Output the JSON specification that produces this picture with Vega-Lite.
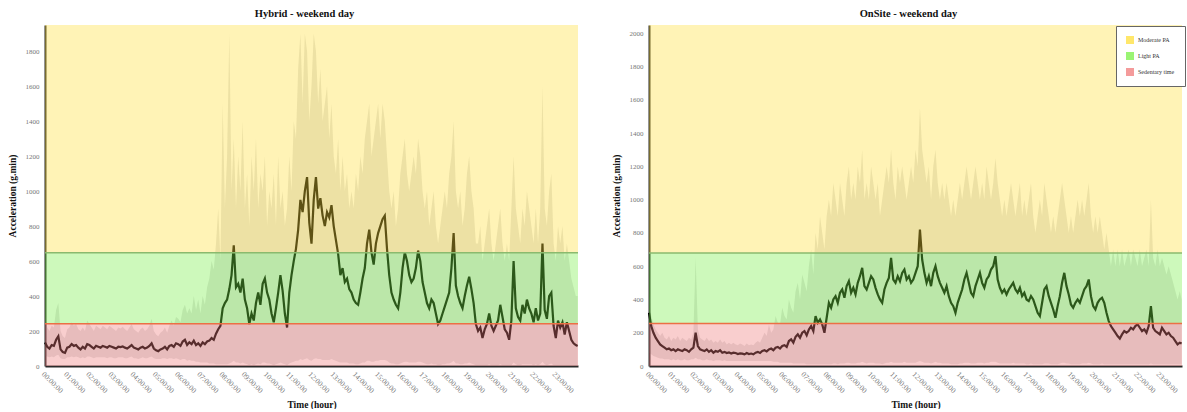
{
"$schema":"https://vega.github.io/schema/vega-lite/v6.json",
"background":"white",
"padding":{"left":7,"top":8,"right":0,"bottom":0},
"spacing":28,
"config":{"font":"Liberation Serif","view":{"stroke":null},
"axis":{"grid":false,"ticks":false,"labelColor":"#777","labelFontSize":7,"labelOverlap":false,"titleFontSize":9.5,"titleFontWeight":"bold","titleColor":"#111","domainColor":"#2a2a2a","domainWidth":2},
"axisX":{"labelAngle":45,"labelAlign":"left","labelBaseline":"top","labelPadding":4,"labelFontSize":7.5,"titlePadding":5,"labelFlush":false},
"axisY":{"labelPadding":6,"titlePadding":8,"format":"d"},
"title":{"fontSize":10.5,"fontWeight":"bold","color":"#111","offset":6,"dx":-7}},
"resolve":{"scale":{"color":"independent"},"legend":{"color":"independent"}},
"datasets":{
"zh":[{"zone":"Sedentary time","y0":0,"y1":242},{"zone":"Light PA","y0":242,"y1":647},{"zone":"Moderate PA","y0":647,"y1":1950}],
"zo":[{"zone":"Sedentary time","y0":0,"y1":255},{"zone":"Light PA","y0":255,"y1":680},{"zone":"Moderate PA","y0":680,"y1":2050}],
"hyb":[
{"m":0,"v":135,"lo":60,"hi":300},{"m":6,"v":110,"lo":55,"hi":220},{"m":12,"v":100,"lo":50,"hi":200},{"m":18,"v":120,"lo":55,"hi":230},{"m":24,"v":115,"lo":50,"hi":220},{"m":30,"v":150,"lo":60,"hi":320},{"m":36,"v":170,"lo":65,"hi":360},{"m":42,"v":95,"lo":45,"hi":200},{"m":48,"v":80,"lo":40,"hi":170},{"m":54,"v":75,"lo":40,"hi":160},
{"m":60,"v":105,"lo":50,"hi":210},{"m":66,"v":110,"lo":50,"hi":220},{"m":72,"v":125,"lo":55,"hi":250},{"m":78,"v":115,"lo":50,"hi":230},{"m":84,"v":120,"lo":55,"hi":240},{"m":90,"v":105,"lo":50,"hi":210},{"m":96,"v":95,"lo":45,"hi":200},{"m":102,"v":110,"lo":50,"hi":220},{"m":108,"v":100,"lo":45,"hi":200},{"m":114,"v":125,"lo":55,"hi":260},
{"m":120,"v":120,"lo":55,"hi":240},{"m":126,"v":110,"lo":50,"hi":220},{"m":132,"v":100,"lo":45,"hi":200},{"m":138,"v":115,"lo":50,"hi":230},{"m":144,"v":110,"lo":50,"hi":220},{"m":150,"v":105,"lo":50,"hi":210},{"m":156,"v":115,"lo":50,"hi":230},{"m":162,"v":110,"lo":50,"hi":220},{"m":168,"v":105,"lo":45,"hi":210},{"m":174,"v":115,"lo":50,"hi":230},
{"m":180,"v":110,"lo":50,"hi":220},{"m":186,"v":105,"lo":45,"hi":210},{"m":192,"v":100,"lo":45,"hi":200},{"m":198,"v":110,"lo":50,"hi":220},{"m":204,"v":108,"lo":50,"hi":215},{"m":210,"v":112,"lo":50,"hi":225},{"m":216,"v":105,"lo":45,"hi":210},{"m":222,"v":100,"lo":45,"hi":200},{"m":228,"v":110,"lo":50,"hi":220},{"m":234,"v":120,"lo":55,"hi":240},
{"m":240,"v":105,"lo":45,"hi":210},{"m":246,"v":100,"lo":45,"hi":200},{"m":252,"v":95,"lo":40,"hi":190},{"m":258,"v":105,"lo":45,"hi":210},{"m":264,"v":110,"lo":50,"hi":220},{"m":270,"v":100,"lo":45,"hi":200},{"m":276,"v":105,"lo":45,"hi":210},{"m":282,"v":115,"lo":50,"hi":230},{"m":288,"v":130,"lo":55,"hi":270},{"m":294,"v":100,"lo":45,"hi":200},
{"m":300,"v":90,"lo":40,"hi":180},{"m":306,"v":85,"lo":40,"hi":170},{"m":312,"v":95,"lo":40,"hi":190},{"m":318,"v":100,"lo":45,"hi":200},{"m":324,"v":110,"lo":45,"hi":220},{"m":330,"v":95,"lo":40,"hi":190},{"m":336,"v":115,"lo":45,"hi":230},{"m":342,"v":120,"lo":45,"hi":260},{"m":348,"v":110,"lo":40,"hi":230},{"m":354,"v":130,"lo":45,"hi":280},
{"m":360,"v":125,"lo":40,"hi":270},{"m":366,"v":115,"lo":35,"hi":250},{"m":372,"v":140,"lo":40,"hi":320},{"m":378,"v":150,"lo":40,"hi":350},{"m":384,"v":120,"lo":30,"hi":300},{"m":390,"v":135,"lo":35,"hi":330},{"m":396,"v":125,"lo":30,"hi":300},{"m":402,"v":145,"lo":30,"hi":400},{"m":408,"v":120,"lo":25,"hi":320},{"m":414,"v":130,"lo":25,"hi":380},
{"m":420,"v":115,"lo":20,"hi":300},{"m":426,"v":135,"lo":20,"hi":400},{"m":432,"v":125,"lo":20,"hi":350},{"m":438,"v":140,"lo":20,"hi":450},{"m":444,"v":145,"lo":15,"hi":500},{"m":450,"v":160,"lo":15,"hi":600},{"m":456,"v":150,"lo":15,"hi":550},{"m":462,"v":185,"lo":10,"hi":700},{"m":468,"v":210,"lo":10,"hi":900},{"m":474,"v":230,"lo":10,"hi":600},
{"m":480,"v":330,"lo":10,"hi":1500},{"m":486,"v":360,"lo":10,"hi":900},{"m":492,"v":380,"lo":10,"hi":1200},{"m":498,"v":440,"lo":15,"hi":1900},{"m":504,"v":520,"lo":20,"hi":1000},{"m":510,"v":690,"lo":30,"hi":1300},{"m":516,"v":450,"lo":20,"hi":900},{"m":522,"v":470,"lo":20,"hi":1200},{"m":528,"v":420,"lo":15,"hi":1000},{"m":534,"v":500,"lo":20,"hi":1400},
{"m":540,"v":380,"lo":15,"hi":900},{"m":546,"v":330,"lo":10,"hi":1100},{"m":552,"v":240,"lo":5,"hi":800},{"m":558,"v":300,"lo":10,"hi":1200},{"m":564,"v":260,"lo":5,"hi":1000},{"m":570,"v":360,"lo":10,"hi":1300},{"m":576,"v":420,"lo":15,"hi":900},{"m":582,"v":350,"lo":10,"hi":1100},{"m":588,"v":470,"lo":20,"hi":1000},{"m":594,"v":500,"lo":20,"hi":1200},
{"m":600,"v":420,"lo":15,"hi":800},{"m":606,"v":380,"lo":15,"hi":1000},{"m":612,"v":300,"lo":10,"hi":900},{"m":618,"v":250,"lo":5,"hi":1100},{"m":624,"v":330,"lo":10,"hi":800},{"m":630,"v":420,"lo":15,"hi":1200},{"m":636,"v":520,"lo":20,"hi":900},{"m":642,"v":430,"lo":15,"hi":1000},{"m":648,"v":300,"lo":10,"hi":800},{"m":654,"v":220,"lo":5,"hi":900},
{"m":660,"v":420,"lo":15,"hi":1200},{"m":666,"v":520,"lo":20,"hi":1000},{"m":672,"v":600,"lo":25,"hi":1400},{"m":678,"v":670,"lo":30,"hi":1300},{"m":684,"v":780,"lo":30,"hi":1700},{"m":690,"v":950,"lo":40,"hi":1900},{"m":696,"v":880,"lo":35,"hi":1500},{"m":702,"v":1000,"lo":40,"hi":1900},{"m":708,"v":1080,"lo":45,"hi":1800},{"m":714,"v":820,"lo":35,"hi":1400},
{"m":720,"v":700,"lo":30,"hi":1600},{"m":726,"v":950,"lo":40,"hi":1900},{"m":732,"v":1080,"lo":45,"hi":1800},{"m":738,"v":900,"lo":40,"hi":1500},{"m":744,"v":960,"lo":40,"hi":1700},{"m":750,"v":860,"lo":35,"hi":1400},{"m":756,"v":800,"lo":35,"hi":1500},{"m":762,"v":880,"lo":35,"hi":1600},{"m":768,"v":850,"lo":35,"hi":1300},{"m":774,"v":920,"lo":40,"hi":1500},
{"m":780,"v":800,"lo":35,"hi":1200},{"m":786,"v":720,"lo":30,"hi":1100},{"m":792,"v":640,"lo":25,"hi":1300},{"m":798,"v":520,"lo":20,"hi":1000},{"m":804,"v":560,"lo":20,"hi":1200},{"m":810,"v":480,"lo":20,"hi":1000},{"m":816,"v":500,"lo":20,"hi":1100},{"m":822,"v":440,"lo":15,"hi":900},{"m":828,"v":420,"lo":15,"hi":1000},{"m":834,"v":380,"lo":15,"hi":900},
{"m":840,"v":360,"lo":10,"hi":1100},{"m":846,"v":350,"lo":10,"hi":1000},{"m":852,"v":420,"lo":15,"hi":1200},{"m":858,"v":500,"lo":20,"hi":1100},{"m":864,"v":560,"lo":20,"hi":1300},{"m":870,"v":700,"lo":30,"hi":1400},{"m":876,"v":780,"lo":30,"hi":1500},{"m":882,"v":650,"lo":25,"hi":1200},{"m":888,"v":580,"lo":25,"hi":1300},{"m":894,"v":700,"lo":30,"hi":1400},
{"m":900,"v":760,"lo":30,"hi":1500},{"m":906,"v":800,"lo":35,"hi":1300},{"m":912,"v":840,"lo":35,"hi":1500},{"m":918,"v":860,"lo":35,"hi":1400},{"m":924,"v":670,"lo":30,"hi":1200},{"m":930,"v":520,"lo":20,"hi":1000},{"m":936,"v":420,"lo":15,"hi":900},{"m":942,"v":380,"lo":15,"hi":1000},{"m":948,"v":350,"lo":10,"hi":800},{"m":954,"v":330,"lo":10,"hi":900},
{"m":960,"v":420,"lo":15,"hi":1100},{"m":966,"v":560,"lo":20,"hi":1200},{"m":972,"v":650,"lo":25,"hi":1300},{"m":978,"v":600,"lo":25,"hi":1100},{"m":984,"v":520,"lo":20,"hi":1000},{"m":990,"v":480,"lo":20,"hi":1100},{"m":996,"v":500,"lo":20,"hi":1200},{"m":1002,"v":560,"lo":20,"hi":1100},{"m":1008,"v":660,"lo":25,"hi":1300},{"m":1014,"v":600,"lo":25,"hi":1200},
{"m":1020,"v":480,"lo":20,"hi":1000},{"m":1026,"v":420,"lo":15,"hi":900},{"m":1032,"v":360,"lo":10,"hi":1000},{"m":1038,"v":330,"lo":10,"hi":800},{"m":1044,"v":380,"lo":15,"hi":900},{"m":1050,"v":360,"lo":10,"hi":1000},{"m":1056,"v":300,"lo":10,"hi":800},{"m":1062,"v":240,"lo":5,"hi":700},{"m":1068,"v":260,"lo":5,"hi":800},{"m":1074,"v":300,"lo":10,"hi":900},
{"m":1080,"v":340,"lo":10,"hi":1000},{"m":1086,"v":380,"lo":15,"hi":900},{"m":1092,"v":420,"lo":15,"hi":1100},{"m":1098,"v":560,"lo":20,"hi":1200},{"m":1104,"v":760,"lo":30,"hi":1400},{"m":1110,"v":460,"lo":15,"hi":1000},{"m":1116,"v":400,"lo":15,"hi":900},{"m":1122,"v":360,"lo":10,"hi":1000},{"m":1128,"v":330,"lo":10,"hi":800},{"m":1134,"v":400,"lo":15,"hi":900},
{"m":1140,"v":460,"lo":15,"hi":1100},{"m":1146,"v":510,"lo":20,"hi":1200},{"m":1152,"v":440,"lo":15,"hi":1000},{"m":1158,"v":360,"lo":10,"hi":900},{"m":1164,"v":240,"lo":5,"hi":700},{"m":1170,"v":200,"lo":5,"hi":700},{"m":1176,"v":220,"lo":5,"hi":800},{"m":1182,"v":160,"lo":5,"hi":600},{"m":1188,"v":210,"lo":5,"hi":700},{"m":1194,"v":240,"lo":5,"hi":800},
{"m":1200,"v":300,"lo":10,"hi":900},{"m":1206,"v":230,"lo":5,"hi":700},{"m":1212,"v":200,"lo":5,"hi":600},{"m":1218,"v":230,"lo":5,"hi":700},{"m":1224,"v":260,"lo":5,"hi":800},{"m":1230,"v":350,"lo":10,"hi":900},{"m":1236,"v":280,"lo":5,"hi":700},{"m":1242,"v":210,"lo":5,"hi":600},{"m":1248,"v":190,"lo":5,"hi":700},{"m":1254,"v":150,"lo":5,"hi":600},
{"m":1260,"v":260,"lo":5,"hi":900},{"m":1266,"v":600,"lo":20,"hi":1200},{"m":1272,"v":330,"lo":10,"hi":900},{"m":1278,"v":280,"lo":5,"hi":800},{"m":1284,"v":260,"lo":5,"hi":700},{"m":1290,"v":350,"lo":10,"hi":900},{"m":1296,"v":300,"lo":10,"hi":800},{"m":1302,"v":380,"lo":10,"hi":1000},{"m":1308,"v":330,"lo":10,"hi":900},{"m":1314,"v":300,"lo":10,"hi":800},
{"m":1320,"v":250,"lo":5,"hi":700},{"m":1326,"v":330,"lo":10,"hi":900},{"m":1332,"v":260,"lo":5,"hi":700},{"m":1338,"v":300,"lo":10,"hi":900},{"m":1344,"v":700,"lo":25,"hi":1600},{"m":1350,"v":320,"lo":10,"hi":900},{"m":1356,"v":270,"lo":5,"hi":800},{"m":1362,"v":400,"lo":10,"hi":1000},{"m":1368,"v":420,"lo":15,"hi":1100},{"m":1374,"v":230,"lo":5,"hi":700},
{"m":1380,"v":160,"lo":5,"hi":600},{"m":1386,"v":260,"lo":5,"hi":800},{"m":1392,"v":220,"lo":5,"hi":700},{"m":1398,"v":250,"lo":5,"hi":800},{"m":1404,"v":180,"lo":5,"hi":600},{"m":1410,"v":250,"lo":5,"hi":700},{"m":1416,"v":200,"lo":5,"hi":600},{"m":1422,"v":150,"lo":5,"hi":500},{"m":1428,"v":130,"lo":5,"hi":450},{"m":1434,"v":120,"lo":5,"hi":400},{"m":1439,"v":115,"lo":5,"hi":400}],
"ons":[
{"m":0,"v":320,"lo":80,"hi":450},{"m":6,"v":240,"lo":70,"hi":300},{"m":12,"v":200,"lo":60,"hi":250},{"m":18,"v":170,"lo":55,"hi":220},{"m":24,"v":150,"lo":50,"hi":200},{"m":30,"v":130,"lo":45,"hi":180},{"m":36,"v":120,"lo":45,"hi":200},{"m":42,"v":110,"lo":40,"hi":170},{"m":48,"v":100,"lo":40,"hi":160},{"m":54,"v":105,"lo":40,"hi":180},
{"m":60,"v":95,"lo":35,"hi":150},{"m":66,"v":100,"lo":40,"hi":170},{"m":72,"v":90,"lo":35,"hi":160},{"m":78,"v":100,"lo":40,"hi":180},{"m":84,"v":95,"lo":35,"hi":150},{"m":90,"v":90,"lo":35,"hi":170},{"m":96,"v":100,"lo":40,"hi":160},{"m":102,"v":95,"lo":35,"hi":150},{"m":108,"v":85,"lo":35,"hi":170},{"m":114,"v":100,"lo":40,"hi":160},
{"m":120,"v":110,"lo":40,"hi":200},{"m":126,"v":200,"lo":50,"hi":650},{"m":132,"v":120,"lo":40,"hi":220},{"m":138,"v":100,"lo":40,"hi":170},{"m":144,"v":95,"lo":35,"hi":160},{"m":150,"v":90,"lo":35,"hi":150},{"m":156,"v":100,"lo":40,"hi":170},{"m":162,"v":85,"lo":35,"hi":150},{"m":168,"v":95,"lo":35,"hi":160},{"m":174,"v":80,"lo":30,"hi":140},
{"m":180,"v":90,"lo":35,"hi":150},{"m":186,"v":85,"lo":35,"hi":140},{"m":192,"v":95,"lo":35,"hi":160},{"m":198,"v":80,"lo":30,"hi":140},{"m":204,"v":85,"lo":35,"hi":150},{"m":210,"v":78,"lo":30,"hi":130},{"m":216,"v":82,"lo":30,"hi":140},{"m":222,"v":75,"lo":30,"hi":130},{"m":228,"v":80,"lo":30,"hi":140},{"m":234,"v":78,"lo":30,"hi":130},
{"m":240,"v":72,"lo":30,"hi":125},{"m":246,"v":76,"lo":30,"hi":135},{"m":252,"v":74,"lo":30,"hi":130},{"m":258,"v":70,"lo":30,"hi":120},{"m":264,"v":78,"lo":30,"hi":135},{"m":270,"v":72,"lo":30,"hi":125},{"m":276,"v":75,"lo":30,"hi":130},{"m":282,"v":70,"lo":30,"hi":125},{"m":288,"v":80,"lo":30,"hi":140},{"m":294,"v":85,"lo":30,"hi":150},
{"m":300,"v":78,"lo":30,"hi":140},{"m":306,"v":90,"lo":30,"hi":170},{"m":312,"v":95,"lo":30,"hi":200},{"m":318,"v":88,"lo":30,"hi":180},{"m":324,"v":100,"lo":30,"hi":250},{"m":330,"v":105,"lo":30,"hi":200},{"m":336,"v":95,"lo":25,"hi":220},{"m":342,"v":110,"lo":25,"hi":300},{"m":348,"v":115,"lo":25,"hi":260},{"m":354,"v":105,"lo":20,"hi":250},
{"m":360,"v":120,"lo":20,"hi":350},{"m":366,"v":125,"lo":20,"hi":300},{"m":372,"v":115,"lo":20,"hi":280},{"m":378,"v":150,"lo":20,"hi":400},{"m":384,"v":160,"lo":20,"hi":350},{"m":390,"v":140,"lo":15,"hi":320},{"m":396,"v":175,"lo":15,"hi":450},{"m":402,"v":190,"lo":15,"hi":500},{"m":408,"v":170,"lo":15,"hi":400},{"m":414,"v":200,"lo":15,"hi":550},
{"m":420,"v":210,"lo":15,"hi":500},{"m":426,"v":185,"lo":10,"hi":450},{"m":432,"v":220,"lo":10,"hi":600},{"m":438,"v":240,"lo":10,"hi":700},{"m":444,"v":210,"lo":10,"hi":550},{"m":450,"v":300,"lo":10,"hi":800},{"m":456,"v":260,"lo":10,"hi":700},{"m":462,"v":280,"lo":10,"hi":900},{"m":468,"v":250,"lo":10,"hi":800},{"m":474,"v":200,"lo":10,"hi":700},
{"m":480,"v":290,"lo":10,"hi":900},{"m":486,"v":380,"lo":10,"hi":1000},{"m":492,"v":350,"lo":10,"hi":900},{"m":498,"v":400,"lo":15,"hi":1100},{"m":504,"v":420,"lo":15,"hi":1000},{"m":510,"v":380,"lo":10,"hi":900},{"m":516,"v":440,"lo":15,"hi":1100},{"m":522,"v":460,"lo":15,"hi":1000},{"m":528,"v":410,"lo":15,"hi":900},{"m":534,"v":480,"lo":20,"hi":1100},
{"m":540,"v":510,"lo":20,"hi":1200},{"m":546,"v":440,"lo":15,"hi":1000},{"m":552,"v":470,"lo":15,"hi":1100},{"m":558,"v":430,"lo":15,"hi":1000},{"m":564,"v":500,"lo":20,"hi":1200},{"m":570,"v":540,"lo":20,"hi":1100},{"m":576,"v":590,"lo":25,"hi":1300},{"m":582,"v":480,"lo":20,"hi":1000},{"m":588,"v":460,"lo":15,"hi":1100},{"m":594,"v":500,"lo":20,"hi":1000},
{"m":600,"v":540,"lo":20,"hi":1200},{"m":606,"v":520,"lo":20,"hi":1100},{"m":612,"v":470,"lo":15,"hi":1000},{"m":618,"v":430,"lo":15,"hi":1100},{"m":624,"v":400,"lo":15,"hi":900},{"m":630,"v":380,"lo":10,"hi":1000},{"m":636,"v":460,"lo":15,"hi":1100},{"m":642,"v":500,"lo":20,"hi":1200},{"m":648,"v":530,"lo":20,"hi":1100},{"m":654,"v":650,"lo":25,"hi":1300},
{"m":660,"v":520,"lo":20,"hi":1100},{"m":666,"v":500,"lo":20,"hi":1000},{"m":672,"v":540,"lo":20,"hi":1200},{"m":678,"v":510,"lo":20,"hi":1100},{"m":684,"v":560,"lo":20,"hi":1200},{"m":690,"v":580,"lo":25,"hi":1100},{"m":696,"v":520,"lo":20,"hi":1000},{"m":702,"v":540,"lo":20,"hi":1100},{"m":708,"v":500,"lo":20,"hi":1200},{"m":714,"v":520,"lo":20,"hi":1100},
{"m":720,"v":560,"lo":20,"hi":1300},{"m":726,"v":600,"lo":25,"hi":1200},{"m":732,"v":820,"lo":30,"hi":1550},{"m":738,"v":640,"lo":25,"hi":1300},{"m":744,"v":560,"lo":20,"hi":1200},{"m":750,"v":500,"lo":20,"hi":1100},{"m":756,"v":540,"lo":20,"hi":1200},{"m":762,"v":480,"lo":15,"hi":1000},{"m":768,"v":560,"lo":20,"hi":1200},{"m":774,"v":600,"lo":25,"hi":1300},
{"m":780,"v":540,"lo":20,"hi":1100},{"m":786,"v":500,"lo":20,"hi":1000},{"m":792,"v":470,"lo":15,"hi":1100},{"m":798,"v":440,"lo":15,"hi":1000},{"m":804,"v":480,"lo":15,"hi":1100},{"m":810,"v":420,"lo":15,"hi":1000},{"m":816,"v":380,"lo":10,"hi":900},{"m":822,"v":360,"lo":10,"hi":1000},{"m":828,"v":320,"lo":10,"hi":900},{"m":834,"v":380,"lo":10,"hi":1000},
{"m":840,"v":420,"lo":15,"hi":1100},{"m":846,"v":460,"lo":15,"hi":1000},{"m":852,"v":520,"lo":20,"hi":1100},{"m":858,"v":560,"lo":20,"hi":1200},{"m":864,"v":500,"lo":20,"hi":1100},{"m":870,"v":440,"lo":15,"hi":1000},{"m":876,"v":420,"lo":15,"hi":1100},{"m":882,"v":480,"lo":15,"hi":1200},{"m":888,"v":520,"lo":20,"hi":1100},{"m":894,"v":560,"lo":20,"hi":1000},
{"m":900,"v":500,"lo":20,"hi":1100},{"m":906,"v":470,"lo":15,"hi":1000},{"m":912,"v":520,"lo":20,"hi":1200},{"m":918,"v":540,"lo":20,"hi":1100},{"m":924,"v":580,"lo":25,"hi":1000},{"m":930,"v":600,"lo":25,"hi":1100},{"m":936,"v":660,"lo":25,"hi":1250},{"m":942,"v":520,"lo":20,"hi":1100},{"m":948,"v":470,"lo":15,"hi":1000},{"m":954,"v":440,"lo":15,"hi":900},
{"m":960,"v":460,"lo":15,"hi":1000},{"m":966,"v":430,"lo":15,"hi":900},{"m":972,"v":460,"lo":15,"hi":1000},{"m":978,"v":480,"lo":15,"hi":1100},{"m":984,"v":500,"lo":20,"hi":1000},{"m":990,"v":460,"lo":15,"hi":900},{"m":996,"v":440,"lo":15,"hi":1000},{"m":1002,"v":470,"lo":15,"hi":1100},{"m":1008,"v":420,"lo":15,"hi":900},{"m":1014,"v":440,"lo":15,"hi":1000},
{"m":1020,"v":400,"lo":10,"hi":900},{"m":1026,"v":390,"lo":10,"hi":1000},{"m":1032,"v":420,"lo":15,"hi":1100},{"m":1038,"v":400,"lo":10,"hi":900},{"m":1044,"v":360,"lo":10,"hi":800},{"m":1050,"v":320,"lo":10,"hi":900},{"m":1056,"v":300,"lo":10,"hi":1000},{"m":1062,"v":380,"lo":10,"hi":900},{"m":1068,"v":460,"lo":15,"hi":1100},{"m":1074,"v":480,"lo":15,"hi":1000},
{"m":1080,"v":420,"lo":15,"hi":900},{"m":1086,"v":380,"lo":10,"hi":800},{"m":1092,"v":340,"lo":10,"hi":900},{"m":1098,"v":290,"lo":10,"hi":800},{"m":1104,"v":360,"lo":10,"hi":900},{"m":1110,"v":420,"lo":15,"hi":1000},{"m":1116,"v":500,"lo":20,"hi":1100},{"m":1122,"v":560,"lo":20,"hi":1000},{"m":1128,"v":480,"lo":15,"hi":900},{"m":1134,"v":430,"lo":15,"hi":800},
{"m":1140,"v":370,"lo":10,"hi":900},{"m":1146,"v":350,"lo":10,"hi":800},{"m":1152,"v":380,"lo":10,"hi":900},{"m":1158,"v":400,"lo":10,"hi":1000},{"m":1164,"v":380,"lo":10,"hi":900},{"m":1170,"v":420,"lo":15,"hi":1000},{"m":1176,"v":460,"lo":15,"hi":900},{"m":1182,"v":480,"lo":15,"hi":1000},{"m":1188,"v":520,"lo":20,"hi":1100},{"m":1194,"v":420,"lo":15,"hi":900},
{"m":1200,"v":360,"lo":10,"hi":800},{"m":1206,"v":340,"lo":10,"hi":900},{"m":1212,"v":380,"lo":10,"hi":800},{"m":1218,"v":400,"lo":10,"hi":900},{"m":1224,"v":410,"lo":15,"hi":800},{"m":1230,"v":380,"lo":10,"hi":700},{"m":1236,"v":320,"lo":10,"hi":800},{"m":1242,"v":270,"lo":10,"hi":700},{"m":1248,"v":240,"lo":10,"hi":600},{"m":1254,"v":220,"lo":10,"hi":700},
{"m":1260,"v":200,"lo":10,"hi":600},{"m":1266,"v":180,"lo":10,"hi":700},{"m":1272,"v":165,"lo":10,"hi":600},{"m":1278,"v":190,"lo":10,"hi":700},{"m":1284,"v":210,"lo":10,"hi":600},{"m":1290,"v":200,"lo":10,"hi":650},{"m":1296,"v":210,"lo":10,"hi":700},{"m":1302,"v":230,"lo":10,"hi":600},{"m":1308,"v":220,"lo":10,"hi":700},{"m":1314,"v":240,"lo":10,"hi":650},
{"m":1320,"v":250,"lo":10,"hi":600},{"m":1326,"v":230,"lo":10,"hi":700},{"m":1332,"v":210,"lo":10,"hi":600},{"m":1338,"v":220,"lo":10,"hi":650},{"m":1344,"v":200,"lo":10,"hi":700},{"m":1350,"v":240,"lo":10,"hi":600},{"m":1356,"v":360,"lo":15,"hi":1000},{"m":1362,"v":230,"lo":10,"hi":650},{"m":1368,"v":210,"lo":10,"hi":600},{"m":1374,"v":200,"lo":10,"hi":700},
{"m":1380,"v":190,"lo":10,"hi":600},{"m":1386,"v":230,"lo":10,"hi":650},{"m":1392,"v":210,"lo":10,"hi":600},{"m":1398,"v":190,"lo":10,"hi":550},{"m":1404,"v":200,"lo":10,"hi":600},{"m":1410,"v":180,"lo":10,"hi":550},{"m":1416,"v":170,"lo":10,"hi":500},{"m":1422,"v":150,"lo":10,"hi":450},{"m":1428,"v":130,"lo":10,"hi":400},{"m":1434,"v":140,"lo":10,"hi":450},{"m":1439,"v":135,"lo":10,"hi":400}]
},
"hconcat":[
{"width":533,"height":341,"title":"Hybrid - weekend day",
"layer":[
{"data":{"name":"hyb"},"mark":{"type":"area","color":"#555","opacity":0.17},
"encoding":{"x":{"field":"m","type":"quantitative","title":"Time (hour)","scale":{"domain":[0,1440],"nice":false},"axis":{"values":[0,60,120,180,240,300,360,420,480,540,600,660,720,780,840,900,960,1020,1080,1140,1200,1260,1320,1380],"labelExpr":"(datum.value < 600 ? '0' : '') + floor(datum.value/60) + ':00:00'"}},
"y":{"field":"lo","type":"quantitative","title":"Acceleration (g.min)","scale":{"domain":[0,1950],"nice":false},"axis":{"values":[0,200,400,600,800,1000,1200,1400,1600,1800]}},"y2":{"field":"hi"}}},
{"data":{"name":"hyb"},"mark":{"type":"line","color":"#000","strokeWidth":2.2},
"encoding":{"x":{"field":"m","type":"quantitative","title":"Time (hour)","axis":{"values":[0,60,120,180,240,300,360,420,480,540,600,660,720,780,840,900,960,1020,1080,1140,1200,1260,1320,1380],"labelExpr":"(datum.value < 600 ? '0' : '') + floor(datum.value/60) + ':00:00'"}},
"y":{"field":"v","type":"quantitative","title":"Acceleration (g.min)","axis":{"values":[0,200,400,600,800,1000,1200,1400,1600,1800]}}}},
{"data":{"name":"zh"},"mark":{"type":"rect","opacity":0.37},
"encoding":{"x":{"datum":0,"type":"quantitative","title":"Time (hour)","axis":{"values":[0,60,120,180,240,300,360,420,480,540,600,660,720,780,840,900,960,1020,1080,1140,1200,1260,1320,1380],"labelExpr":"(datum.value < 600 ? '0' : '') + floor(datum.value/60) + ':00:00'"}},"x2":{"datum":1440},"y":{"field":"y0","type":"quantitative","title":"Acceleration (g.min)","axis":{"values":[0,200,400,600,800,1000,1200,1400,1600,1800]}},"y2":{"field":"y1"},
"color":{"field":"zone","type":"nominal","scale":{"domain":["Moderate PA","Light PA","Sedentary time"],"range":["#FFDF3A","#78F046","#F07A7A"]},"legend":null}}},
{"data":{"name":"zh"},"transform":[{"filter":"datum.zone == 'Light PA'"}],"mark":{"type":"rule","color":"#8aba6e","strokeWidth":1.5},
"encoding":{"y":{"field":"y1","type":"quantitative","title":"Acceleration (g.min)","axis":{"values":[0,200,400,600,800,1000,1200,1400,1600,1800]}}}},
{"data":{"name":"zh"},"transform":[{"filter":"datum.zone == 'Sedentary time'"}],"mark":{"type":"rule","color":"#ec6f45","strokeWidth":1.5},
"encoding":{"y":{"field":"y1","type":"quantitative","title":"Acceleration (g.min)","axis":{"values":[0,200,400,600,800,1000,1200,1400,1600,1800]}}}}
]},
{"width":533,"height":341,"title":"OnSite - weekend day",
"layer":[
{"data":{"name":"ons"},"mark":{"type":"area","color":"#555","opacity":0.17},
"encoding":{"x":{"field":"m","type":"quantitative","title":"Time (hour)","scale":{"domain":[0,1440],"nice":false},"axis":{"values":[0,60,120,180,240,300,360,420,480,540,600,660,720,780,840,900,960,1020,1080,1140,1200,1260,1320,1380],"labelExpr":"(datum.value < 600 ? '0' : '') + floor(datum.value/60) + ':00:00'"}},
"y":{"field":"lo","type":"quantitative","title":"Acceleration (g.min)","scale":{"domain":[0,2050],"nice":false},"axis":{"values":[0,200,400,600,800,1000,1200,1400,1600,1800,2000]}},"y2":{"field":"hi"}}},
{"data":{"name":"ons"},"mark":{"type":"line","color":"#000","strokeWidth":2.2},
"encoding":{"x":{"field":"m","type":"quantitative","title":"Time (hour)","axis":{"values":[0,60,120,180,240,300,360,420,480,540,600,660,720,780,840,900,960,1020,1080,1140,1200,1260,1320,1380],"labelExpr":"(datum.value < 600 ? '0' : '') + floor(datum.value/60) + ':00:00'"}},
"y":{"field":"v","type":"quantitative","title":"Acceleration (g.min)","axis":{"values":[0,200,400,600,800,1000,1200,1400,1600,1800,2000]}}}},
{"data":{"name":"zo"},"mark":{"type":"rect","opacity":0.37},
"encoding":{"x":{"datum":0,"type":"quantitative","title":"Time (hour)","axis":{"values":[0,60,120,180,240,300,360,420,480,540,600,660,720,780,840,900,960,1020,1080,1140,1200,1260,1320,1380],"labelExpr":"(datum.value < 600 ? '0' : '') + floor(datum.value/60) + ':00:00'"}},"x2":{"datum":1440},"y":{"field":"y0","type":"quantitative","title":"Acceleration (g.min)","axis":{"values":[0,200,400,600,800,1000,1200,1400,1600,1800,2000]}},"y2":{"field":"y1"},
"color":{"field":"zone","type":"nominal","scale":{"domain":["Moderate PA","Light PA","Sedentary time"],"range":["#FFDF3A","#78F046","#F07A7A"]},
"legend":{"title":null,"orient":"none","legendX":467,"legendY":1,"fillColor":"white","strokeColor":"#666","padding":10,"labelFontSize":6,"labelColor":"#333","symbolType":"square","symbolSize":64,"symbolOpacity":0.75,"symbolStrokeWidth":0,"rowPadding":8,"cornerRadius":0}}}},
{"data":{"name":"zo"},"transform":[{"filter":"datum.zone == 'Light PA'"}],"mark":{"type":"rule","color":"#8aba6e","strokeWidth":1.5},
"encoding":{"y":{"field":"y1","type":"quantitative","title":"Acceleration (g.min)","axis":{"values":[0,200,400,600,800,1000,1200,1400,1600,1800,2000]}}}},
{"data":{"name":"zo"},"transform":[{"filter":"datum.zone == 'Sedentary time'"}],"mark":{"type":"rule","color":"#ec6f45","strokeWidth":1.5},
"encoding":{"y":{"field":"y1","type":"quantitative","title":"Acceleration (g.min)","axis":{"values":[0,200,400,600,800,1000,1200,1400,1600,1800,2000]}}}}
]}
]
}
